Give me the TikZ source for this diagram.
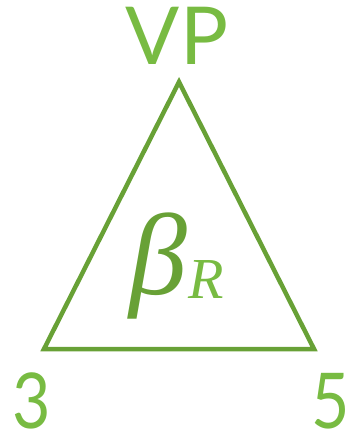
\documentclass[tikz,border=0pt]{standalone}
\usepackage{fontspec}
\setmainfont{Lato}
\newfontfamily\greekfont{Liberation Serif}
\definecolor{leafgreen}{RGB}{120,187,66}
\definecolor{edgegreen}{RGB}{104,161,54}
\newcommand{\narrowdigit}[1]{\scalebox{0.86}[1]{#1}}
\tikzset{
  corner/.style={anchor=base,text=leafgreen,inner sep=0pt,font=\fontsize{80}{80}\selectfont},
  digit/.style={corner,font=\fontsize{77}{77}\selectfont},
}
\begin{document}
\begin{tikzpicture}[x=1pt,y=-1pt]
\useasboundingbox (0,0) rectangle (352,438);
\coordinate (apex) at (179,82);
\coordinate (left) at (44,349);
\coordinate (right) at (314,349);
\draw[edgegreen,line width=4.5pt,line join=miter] (apex) -- (right) -- (left) -- cycle;
\node[corner] (vp) at (177,65) {VP};
\node[digit] (three) at (32,428) {\narrowdigit{3}};
\node[digit] (five) at (331,428) {\narrowdigit{5}};
\node[anchor=base,inner sep=0pt] (beta) at (177,294)
  {\greekfont\itshape\fontsize{116}{116}\selectfont\color{edgegreen}β\kern1pt\raisebox{-4pt}{\fontsize{58}{58}\selectfont\color{leafgreen}R}};
\end{tikzpicture}
\end{document}
